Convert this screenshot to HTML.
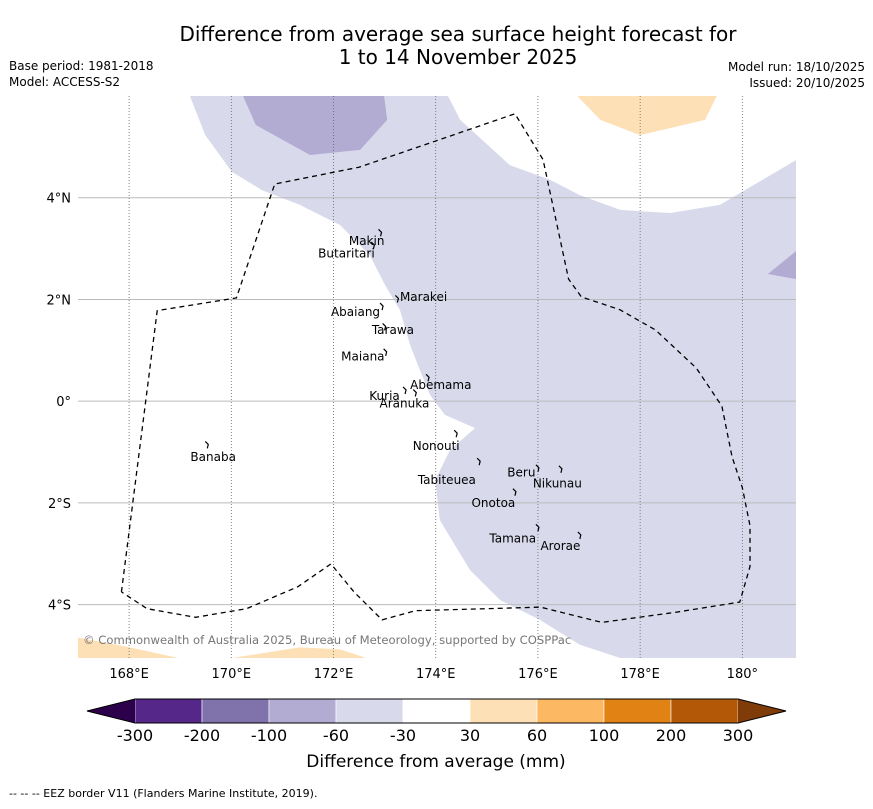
<!DOCTYPE html>
<html><head><meta charset="utf-8"><style>
body{margin:0;background:#fff;font-family:"Liberation Sans","DejaVu Sans",sans-serif;}
svg text{font-family:"DejaVu Sans","Liberation Sans",sans-serif;}
</style></head><body>
<svg id="chart" width="873" height="804" viewBox="0 0 873 804" xmlns="http://www.w3.org/2000/svg">
<text x="458" y="41" text-anchor="middle" font-size="20">Difference from average sea surface height forecast for</text>
<text x="458" y="64" text-anchor="middle" font-size="20">1 to 14 November 2025</text>
<text x="9" y="70" font-size="12">Base period: 1981-2018</text>
<text x="9" y="86" font-size="12">Model: ACCESS-S2</text>
<text x="865" y="71" font-size="12" text-anchor="end">Model run: 18/10/2025</text>
<text x="865" y="87" font-size="12" text-anchor="end">Issued: 20/10/2025</text>
<g id="map"></g>
<g id="cbar"></g>
<text x="436" y="767" text-anchor="middle" font-size="17">Difference from average (mm)</text>
<text x="9" y="797" font-size="11">--  --  -- EEZ border V11 (Flanders Marine Institute, 2019).</text>
</svg>
<script>
const NS="http://www.w3.org/2000/svg";
const lonTicks=[168,170,172,174,176,178,180];
const lonLabels=["168°E","170°E","172°E","174°E","176°E","178°E","180°"];
const latTicks=[4,2,0,-2,-4];
const latLabels=["4°N","2°N","0°","2°S","4°S"];
const islandNames=["Makin","Butaritari","Marakei","Abaiang","Tarawa","Maiana","Abemama","Kuria","Aranuka","Nonouti","Banaba","Beru","Nikunau","Tabiteuea","Onotoa","Tamana","Arorae"];
const islandLon=[172.92,172.78,173.25,172.95,173.0,173.02,173.85,173.4,173.6,174.4,169.53,176.0,176.45,174.85,175.55,176.0,176.82];
const islandLat=[3.3,3.05,2.0,1.85,1.45,0.95,0.45,0.2,0.15,-0.65,-0.87,-1.33,-1.35,-1.2,-1.8,-2.5,-2.65];
const labelLon=[172.3,171.7,173.3,171.95,172.75,172.15,173.5,172.7,172.9,173.55,169.2,175.4,175.9,173.65,174.7,175.05,176.05];
const labelLat=[3.15,2.9,2.05,1.75,1.4,0.88,0.32,0.1,-0.05,-0.88,-1.1,-1.4,-1.62,-1.55,-2.0,-2.7,-2.85];
const cbBounds=[-300,-200,-100,-60,-30,30,60,100,200,300];
const cbColors=["#542788","#8073ac","#b2abd2","#d8daeb","#ffffff","#fee0b6","#fdb863","#e08214","#b35806"];
const cbUnder="#2d004b", cbOver="#7f3b08";
const regionLight=[[169.19,6],[169.49,5.23],[170.01,4.51],[170.6,4.15],[171.34,3.86],[172.13,3.46],[172.71,2.87],[173.01,2.28],[173.3,1.79],[173.5,1.1],[173.69,0.61],[173.89,0.12],[174.18,-0.27],[174.77,-0.53],[174.28,-0.96],[173.99,-1.55],[174.08,-2.34],[174.67,-3.32],[175.26,-3.91],[176.04,-4.3],[176.82,-4.79],[177.61,-5.05],[181.05,-5.05],[181.05,4.74],[179.56,3.86],[178.59,3.7],[177.61,3.76],[176.82,4.05],[176.24,4.35],[175.45,4.64],[174.48,5.53],[174.24,6]];
const regionMid=[[170.23,6],[170.48,5.43],[171.54,4.84],[172.52,4.94],[173.05,5.53],[172.99,6]];
const regionMid2=[[180.5,2.5],[181.05,2.4],[181.05,2.95]];
const regionOrange1=[[176.77,6],[177.22,5.53],[178.0,5.23],[179.27,5.53],[179.5,6]];
const regionOrange2=[[167,-4.65],[168.02,-4.84],[168.96,-5.05],[167,-5.05]];
const regionOrange3=[[170.01,-5.05],[171.34,-4.84],[172.13,-4.88],[172.64,-5.05]];
const eezLon=[167.85,168.55,170.1,170.85,172.5,174.1,175.55,176.1,176.6,176.85,177.6,178.3,179.1,179.6,179.8,180.0,180.15,180.15,179.95,178.7,177.25,176.05,173.6,172.95,172.4,171.95,171.3,170.3,169.3,168.35,167.85];
const eezLat=[-3.75,1.78,2.03,4.27,4.6,5.15,5.65,4.75,2.4,2.05,1.8,1.4,0.65,-0.1,-1.1,-1.7,-2.45,-3.25,-3.95,-4.15,-4.35,-4.05,-4.12,-4.3,-3.75,-3.2,-3.65,-4.08,-4.25,-4.08,-3.75];
const X0=78,X1=796,Y0=96,Y1=658;
const lonMin=167,lonMax=181.05,latMax=6,latMin=-5.05;
const xs=l=>X0+(l-lonMin)/(lonMax-lonMin)*(X1-X0);
const ys=l=>Y0+(latMax-l)/(latMax-latMin)*(Y1-Y0);
const map=document.getElementById('map');
function mk(tag,attrs,parent){const e=document.createElementNS(NS,tag);for(const k in attrs)e.setAttribute(k,attrs[k]);(parent||map).appendChild(e);return e;}
const cp=mk('clipPath',{id:'mc'});mk('rect',{x:X0,y:Y0,width:X1-X0,height:Y1-Y0},cp);
const g=mk('g',{'clip-path':'url(#mc)'});
function poly(arr,fill,name){const p=mk('polygon',{points:arr.map(d=>xs(d[0])+','+ys(d[1])).join(' '),fill:fill},g);

}
poly(regionLight,"#d8daeb",'anomaly-region-light-purple');
poly(regionMid,"#b2abd2",'anomaly-region-mid-purple');
poly(regionMid2,"#b2abd2",'anomaly-region-mid-purple-east');
poly(regionOrange1,"#fee0b6",'anomaly-region-orange-north');
poly(regionOrange2,"#fee0b6",'anomaly-region-orange-southwest');
poly(regionOrange3,"#fee0b6",'anomaly-region-orange-south');
latTicks.forEach((t,i)=>{const l=mk('line',{x1:X0,x2:X1,y1:ys(t),y2:ys(t),stroke:'#bbbbbb','stroke-width':1},g);


const tx=mk('text',{x:X0-7,y:ys(t)+5,'text-anchor':'end','font-size':13});tx.textContent=latLabels[i];

});
lonTicks.forEach((t,i)=>{const l=mk('line',{x1:xs(t),x2:xs(t),y1:Y0,y2:Y1,stroke:'#666','stroke-width':0.8,'stroke-dasharray':'1,2'},g);


const tx=mk('text',{x:xs(t),y:Y1+20,'text-anchor':'middle','font-size':13});tx.textContent=lonLabels[i];

});
const ez=mk('polyline',{points:eezLon.map((l,i)=>xs(l)+','+ys(eezLat[i])).join(' '),fill:'none',stroke:'#000','stroke-width':1.3,'stroke-dasharray':'5,4'},g);


islandNames.forEach((n,i)=>{const x=xs(islandLon[i]),y=ys(islandLat[i]);
const s=mk('path',{d:`M${x-2},${y-4} l3,3 l-1,4`,fill:'none',stroke:'#000','stroke-width':1.2},g);


const t=mk('text',{x:xs(labelLon[i]),y:ys(labelLat[i])+4,'font-size':12},g);t.textContent=n;

});
const cr=mk('text',{x:83,y:644,'font-size':11.6,fill:'#777'},g);cr.textContent="© Commonwealth of Australia 2025, Bureau of Meteorology, supported by COSPPac";


const cb=document.getElementById('cbar');
const cx0=135,cx1=738,cy=699,ch=24,bw=(cx1-cx0)/cbColors.length;
cbColors.forEach((c,i)=>{const r=mk('rect',{x:cx0+i*bw,y:cy,width:bw,height:ch,fill:c,stroke:'#fff','stroke-width':0.6},cb);

});
const tl=mk('polygon',{points:`${cx0},${cy} ${cx0},${cy+ch} 87,${cy+ch/2}`,fill:cbUnder},cb);


const tr=mk('polygon',{points:`${cx1},${cy} ${cx1},${cy+ch} 786,${cy+ch/2}`,fill:cbOver},cb);


const ol=mk('polygon',{points:`87,${cy+ch/2} ${cx0},${cy} ${cx1},${cy} 786,${cy+ch/2} ${cx1},${cy+ch} ${cx0},${cy+ch}`,fill:'none',stroke:'#000','stroke-width':1},cb);


cbBounds.forEach((b,i)=>{const t=mk('text',{x:cx0+i*bw,y:741,'text-anchor':'middle','font-size':16},cb);t.textContent=b;

});
</script>
</body></html>
